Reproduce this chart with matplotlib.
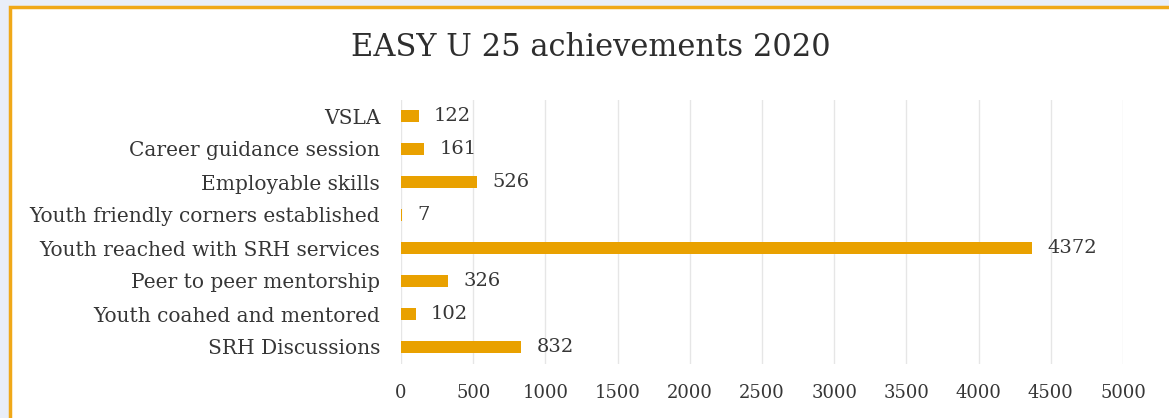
import matplotlib.pyplot as plt
from matplotlib.patches import Rectangle

TITLE = "EASY U 25 achievements 2020"
categories = [
    "VSLA",
    "Career guidance session",
    "Employable skills",
    "Youth friendly corners established",
    "Youth reached with SRH services",
    "Peer to peer mentorship",
    "Youth coahed and mentored",
    "SRH Discussions",
]
values = [122, 161, 526, 7, 4372, 326, 102, 832]
x_ticks = [0, 500, 1000, 1500, 2000, 2500, 3000, 3500, 4000, 4500, 5000]

BAR_COLOR = "#E9A100"
TEXT_COLOR = "#363636"

plt.rcParams["font.family"] = ["DejaVu Serif"]

fig = plt.figure(figsize=(11.69, 4.18), dpi=100, facecolor="#E9EEF8")

# white chart panel with gold edge on top/left
fig.patches.append(Rectangle((10 / 1169, -0.01), 1.0, 1 - 7 / 418 + 0.01,
                             transform=fig.transFigure, facecolor="white",
                             edgecolor="#F0A818", linewidth=2.5, zorder=-5))

ax = fig.add_axes([401 / 1169, 1 - 363.5 / 418, (1123 - 401) / 1169, 264 / 418])
ax.set_zorder(2)
ax.set_facecolor("none")

ypos = list(range(len(categories)))
ax.barh(ypos, values, height=0.34, color=BAR_COLOR, zorder=2)
for y, v in zip(ypos, values):
    ax.annotate(str(v), (v, y), xytext=(11, 0), textcoords="offset points",
                ha="left", va="center", fontsize=14, color=TEXT_COLOR)

ax.set_yticks(ypos)
ax.set_yticklabels(categories, fontsize=14.5, color=TEXT_COLOR)
ax.set_ylim(len(categories) - 0.5, -0.5)
ax.set_xlim(0, 5000)
ax.set_xticks(x_ticks)
ax.set_xticklabels([str(t) for t in x_ticks], fontsize=13, color=TEXT_COLOR)
ax.tick_params(axis="both", length=0)
ax.tick_params(axis="x", pad=15)
ax.tick_params(axis="y", pad=15)
ax.grid(axis="x", color="#e6e6e6", linewidth=1, zorder=0)
ax.set_axisbelow(True)
for s in ax.spines.values():
    s.set_visible(False)

fig.text(0.505, 0.886, TITLE, ha="center", va="center", fontsize=22, color="#2e2e2e")

fig.savefig("out.png", dpi=100, facecolor=fig.get_facecolor())
